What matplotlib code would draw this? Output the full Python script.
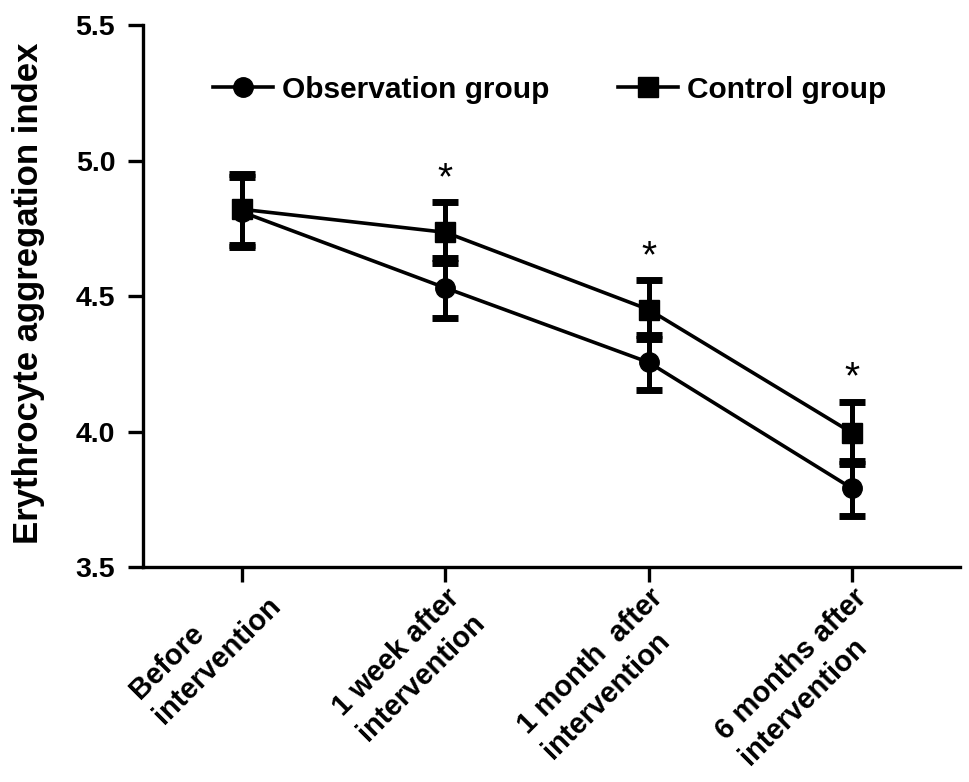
import matplotlib
matplotlib.use("Agg")
import matplotlib.pyplot as plt
from matplotlib.lines import Line2D

plt.rcParams['font.family'] = ['Liberation Sans', 'DejaVu Sans']

# data
categories = ["Before\nintervention", "1 week after\nintervention",
              "1 month  after\nintervention", "6 months after\nintervention"]
obs_mean = [4.81, 4.53, 4.255, 3.79]
obs_err = [0.13, 0.11, 0.10, 0.10]
ctrl_mean = [4.82, 4.735, 4.45, 3.995]
ctrl_err = [0.13, 0.112, 0.108, 0.115]
star_flags = [False, True, True, True]

x = list(range(len(categories)))

fig = plt.figure(figsize=(9.69, 7.82), dpi=100)
ax = fig.add_axes([0.1476, 0.2749, 0.843, 0.6931])

style = dict(color='black', linewidth=2.6, elinewidth=3.6, capsize=9.5,
             capthick=5, markersize=14)
ax.errorbar(x, obs_mean, yerr=obs_err, marker='o', **style)
ax.errorbar(x, ctrl_mean, yerr=ctrl_err, marker='s', **style)

for i, flag in enumerate(star_flags):
    if flag:
        ax.text(x[i], ctrl_mean[i] + ctrl_err[i] + 0.085, '*', ha='center',
                va='center', fontsize=28)

ax.set_xlim(-0.487, 3.53)
ax.set_ylim(3.5, 5.5)
ax.set_yticks([3.5, 4.0, 4.5, 5.0, 5.5])
ax.set_yticklabels(['3.5', '4.0', '4.5', '5.0', '5.5'], fontsize=20.5, fontweight='bold')
ax.set_xticks(x)
ax.set_xticklabels([])

# rotated category labels, drawn by hand so each one can be nudged
for i, txt in enumerate(categories):
    first, second = txt.split('\n')
    dy = -12 if len(first) >= len(second) else 0
    ax.annotate(txt, xy=(x[i], 0), xycoords=('data', 'axes fraction'),
                xytext=(0, dy), textcoords='offset points',
                rotation=45, ha='right', va='top', rotation_mode='anchor',
                multialignment='left', linespacing=1.3,
                fontsize=21, fontweight='bold', annotation_clip=False)

ax.set_ylabel('Erythrocyte aggregation index', fontsize=25, fontweight='bold')
ax.yaxis.set_label_coords(-0.12, 0.505)

for s in ['top', 'right']:
    ax.spines[s].set_visible(False)
for s in ['left', 'bottom']:
    ax.spines[s].set_linewidth(2.4)
ax.tick_params(width=2.4, length=11)
ax.tick_params(axis='y', pad=9)

handles = [Line2D([], [], color='black', linewidth=2.6, marker='o', markersize=14),
           Line2D([], [], color='black', linewidth=2.6, marker='s', markersize=14)]
ax.legend(handles, ['Observation group', 'Control group'], ncol=2, frameon=False,
          loc='center', bbox_to_anchor=(0.567, 0.885), bbox_transform=fig.transFigure,
          prop={'size': 21.5, 'weight': 'bold'}, handlelength=2.0,
          columnspacing=2.3, handletextpad=0.3, borderpad=0)

fig.savefig('out.png', dpi=100)
